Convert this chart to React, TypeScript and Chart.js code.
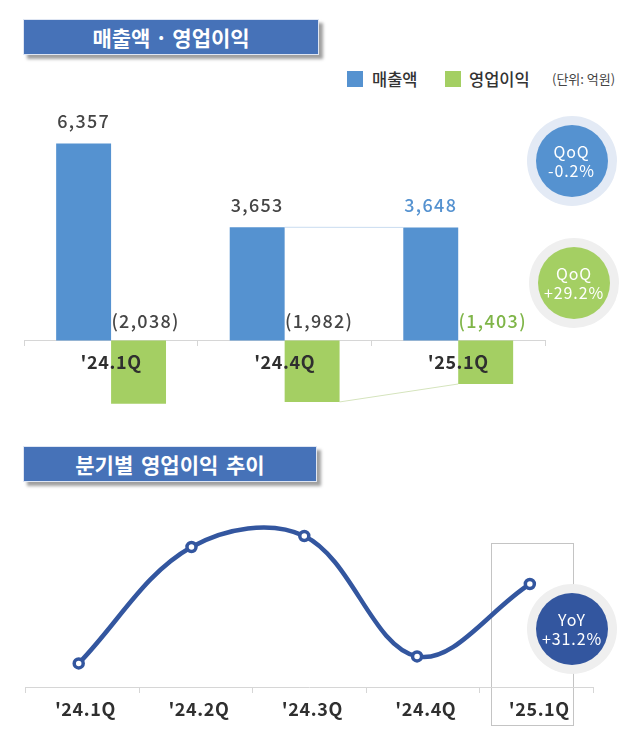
import { useEffect, useRef } from "react";
import type { CSSProperties } from "react";
import { Chart, registerables } from "chart.js";

Chart.register(...registerables);

const KR_FONT = '"Noto Sans CJK KR", "Noto Sans", sans-serif';

const barQuarters = ["'24.1Q", "'24.4Q", "'25.1Q"];
const revenue = [6357, 3653, 3648];
const operatingProfit = [-2038, -1982, -1403];
const revenueLabelColors = ["#454545", "#454545", "#5592d0"];
const profitLabelColors = ["#454545", "#454545", "#7fb548"];

const lineQuarters = ["'24.1Q", "'24.2Q", "'24.3Q", "'24.4Q", "'25.1Q"];
const lineIndex = [0, 1, 2, 3, 4];
const lineProfit = [-2038, -1107, -1019, -1982, -1403];

const BLUE = "#5592d0";
const GREEN = "#a4cf63";
const NAVY = "#33569f";

// tick labels in the reference are spaced out a little
const tickSpacing = {
    id: "tickSpacing",
    beforeDraw(chart: any) {
        chart.ctx.letterSpacing = "0.6px";
    },
};

const barLabels = {
    id: "barLabels",
    beforeDatasetsDraw(chart: any) {
        const ctx = chart.ctx;
        const blue = chart.getDatasetMeta(0).data;
        const green = chart.getDatasetMeta(1).data;
        ctx.save();
        ctx.lineWidth = 1;
        // connector lines between the last two quarters
        ctx.strokeStyle = "#c9dcf0";
        ctx.beginPath();
        ctx.moveTo(blue[1].x + blue[1].width / 2, blue[1].y);
        ctx.lineTo(blue[2].x - blue[2].width / 2, blue[2].y);
        ctx.stroke();
        ctx.strokeStyle = "#d5e4bd";
        ctx.beginPath();
        ctx.moveTo(green[1].x + green[1].width / 2, green[1].y);
        ctx.lineTo(green[2].x - green[2].width / 2, green[2].y);
        ctx.stroke();
        ctx.restore();
    },
    afterDatasetsDraw(chart: any) {
        const ctx = chart.ctx;
        const zero = chart.scales.y.getPixelForValue(0);
        ctx.save();
        ctx.font = `500 18px ${KR_FONT}`;
        ctx.letterSpacing = "1.3px";
        ctx.textAlign = "center";
        ctx.textBaseline = "middle";
        chart.getDatasetMeta(0).data.forEach((bar: any, i: number) => {
            ctx.fillStyle = revenueLabelColors[i];
            ctx.fillText(revenue[i].toLocaleString("en-US"), bar.x, bar.y - 22);
        });
        chart.getDatasetMeta(1).data.forEach((bar: any, i: number) => {
            ctx.fillStyle = profitLabelColors[i];
            ctx.fillText(`(${Math.abs(operatingProfit[i]).toLocaleString("en-US")})`, bar.x + 7, zero - 19);
        });
        ctx.restore();
    },
};

const Badge = ({ x, y, fill, ring, lines }: { x: number; y: number; fill: string; ring: string; lines: string[] }) => (
    <div
        style={{
            position: "absolute",
            left: x - 36,
            top: y - 36,
            width: 72,
            height: 72,
            borderRadius: "50%",
            background: fill,
            boxShadow: `0 0 0 9px ${ring}`,
            color: "#fff",
            font: `400 16px/19px ${KR_FONT}`,
            letterSpacing: "0.9px",
            display: "flex",
            flexDirection: "column",
            alignItems: "center",
            justifyContent: "center",
        }}
    >
        {lines.map((t) => (
            <span key={t}>{t}</span>
        ))}
    </div>
);

const titleStyle = (top: number, height: number, width: number, wordSpacing: number): CSSProperties => ({
    position: "absolute",
    left: 23,
    top,
    width,
    height,
    boxSizing: "border-box",
    background: "#4672b8",
    border: "1px solid #dfe6f3",
    boxShadow: "4px 4px 3px #a0a0a0",
    color: "#fff",
    font: `700 21px/${height - 2}px ${KR_FONT}`,
    wordSpacing,
    textAlign: "center",
});

const App = () => {
    const barRef = useRef<HTMLCanvasElement | null>(null);
    const lineRef = useRef<HTMLCanvasElement | null>(null);

    useEffect(() => {
        if (!barRef.current || !lineRef.current) return;

        const barChart = new Chart(barRef.current, {
            type: "bar",
            data: {
                labels: barQuarters,
                datasets: [
                    { label: "매출액", data: revenue, backgroundColor: BLUE, barPercentage: 1, categoryPercentage: 0.633 },
                    { label: "영업이익", data: operatingProfit, backgroundColor: GREEN, barPercentage: 1, categoryPercentage: 0.633 },
                ],
            },
            options: {
                responsive: false,
                animation: false,
                layout: { padding: { left: 24.3, right: 94, top: 23.5, bottom: 7 } },
                plugins: { legend: { display: false }, tooltip: { enabled: false } },
                scales: {
                    x: {
                        position: { y: 0 },
                        grid: { drawOnChartArea: false, color: "#d6d6d6", tickLength: 5, lineWidth: 1 },
                        border: { color: "#d6d6d6" },
                        ticks: {
                            z: 1,
                            color: "#2f2f2f",
                            padding: 6,
                            maxRotation: 0,
                            autoSkip: false,
                            font: { family: KR_FONT, size: 18, weight: 700 },
                        },
                    },
                    y: { display: false, min: -2500, max: 7000 },
                },
            } as any,
            plugins: [tickSpacing, barLabels],
        });

        const lineChart = new Chart(lineRef.current, {
            type: "line",
            data: {
                labels: lineQuarters,
                datasets: [
                    {
                        label: "영업이익",
                        data: lineIndex.map((x, i) => ({ x, y: lineProfit[i] })),
                        xAxisID: "points",
                        borderColor: NAVY,
                        borderWidth: 4.5,
                        tension: 0.36,
                        pointRadius: 4.5,
                        pointBorderWidth: 3.5,
                        pointBackgroundColor: "#fff",
                        pointBorderColor: NAVY,
                        clip: false,
                    },
                ],
            },
            options: {
                responsive: false,
                animation: false,
                layout: { padding: { left: 25.7, right: 46, top: 10, bottom: 50 } },
                plugins: { legend: { display: false }, tooltip: { enabled: false } },
                scales: {
                    x: {
                        position: { y: -2227 },
                        offset: true,
                        grid: { offset: true, drawOnChartArea: false, color: "#d6d6d6", tickLength: 5, lineWidth: 1 },
                        border: { color: "#d6d6d6" },
                        ticks: {
                            color: "#2f2f2f",
                            padding: 6,
                            labelOffset: 3,
                            maxRotation: 0,
                            autoSkip: false,
                            font: { family: KR_FONT, size: 18, weight: 700 },
                        },
                    },
                    points: { type: "linear", display: false, min: -0.47, max: 4.56 },
                    y: { display: false, min: -2227, max: -731 },
                },
            } as any,
            plugins: [tickSpacing],
        });

        return () => {
            barChart.destroy();
            lineChart.destroy();
        };
    }, []);

    return (
        <div style={{ position: "absolute", left: 0, top: 0, width: 639, height: 737, overflow: "hidden", background: "#fff" }}>
            <div style={titleStyle(19, 36, 296, 0)}>매출액 · 영업이익</div>

            <div style={{ position: "absolute", left: 347, top: 71, width: 16, height: 16, background: BLUE }} />
            <div style={{ position: "absolute", left: 372, top: 68, font: `500 16.5px/22px ${KR_FONT}`, color: "#333" }}>매출액</div>
            <div style={{ position: "absolute", left: 445, top: 71, width: 16, height: 16, background: GREEN }} />
            <div style={{ position: "absolute", left: 469, top: 68, font: `500 16.5px/22px ${KR_FONT}`, color: "#333" }}>영업이익</div>
            <div style={{ position: "absolute", left: 552, top: 70, font: `400 13px/18px ${KR_FONT}`, color: "#444" }}>(단위: 억원)</div>

            <canvas ref={barRef} width={639} height={325} style={{ position: "absolute", left: 0, top: 100 }} />

            <div style={titleStyle(446, 36, 294, 3)}>분기별 영업이익 추이</div>

            <div style={{ position: "absolute", left: 491, top: 543, width: 83, height: 183, boxSizing: "border-box", border: "1px solid #c4c4c4" }} />
            <canvas ref={lineRef} width={639} height={247} style={{ position: "absolute", left: 0, top: 490 }} />

            <Badge x={571.5} y={161} fill={BLUE} ring="#e3eaf5" lines={["QoQ", "-0.2%"]} />
            <Badge x={574} y={283} fill={GREEN} ring="#efefef" lines={["QoQ", "+29.2%"]} />
            <Badge x={572} y={629} fill={NAVY} ring="#efefef" lines={["YoY", "+31.2%"]} />
        </div>
    );
};

export default App;
